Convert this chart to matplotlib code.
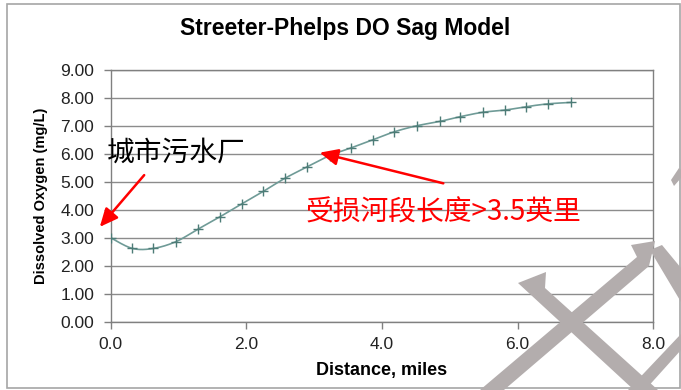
import numpy as np
import matplotlib
matplotlib.use("Agg")
from matplotlib import pyplot as plt
from matplotlib.patches import Rectangle, Polygon, FancyArrowPatch

# DO sag curve read at the marked stations
dist = [0.00, 0.32, 0.63, 0.96, 1.28, 1.61, 1.93, 2.25, 2.57, 2.90, 3.23,
        3.55, 3.86, 4.18, 4.52, 4.85, 5.15, 5.49, 5.82, 6.13, 6.45, 6.78]
do = [3.00, 2.62, 2.62, 2.86, 3.30, 3.75, 4.21, 4.66, 5.13, 5.54, 5.94,
      6.22, 6.50, 6.79, 7.01, 7.16, 7.33, 7.49, 7.57, 7.69, 7.79, 7.84]

xticks = [0.0, 2.0, 4.0, 6.0, 8.0]
yticks = [0, 1, 2, 3, 4, 5, 6, 7, 8, 9]

W, H = 681, 390


def smooth(x, y, n=24):
    # Catmull-Rom spline through the points, like a smoothed spreadsheet line
    x = np.asarray(x, float)
    y = np.asarray(y, float)
    px = np.r_[x[0], x, x[-1]]
    py = np.r_[y[0], y, y[-1]]
    xs, ys = [], []
    t = np.linspace(0, 1, n, endpoint=False)
    for i in range(1, len(px) - 2):
        for arr, out in ((px, xs), (py, ys)):
            p0, p1, p2, p3 = arr[i - 1], arr[i], arr[i + 1], arr[i + 2]
            out.extend(0.5 * ((2 * p1) + (-p0 + p2) * t
                              + (2 * p0 - 5 * p1 + 4 * p2 - p3) * t ** 2
                              + (-p0 + 3 * p1 - 3 * p2 + p3) * t ** 3))
    xs.append(x[-1])
    ys.append(y[-1])
    return np.array(xs), np.array(ys)


def fig_pt(x, y):
    return (x / W, 1 - y / H)


fig = plt.figure(figsize=(W / 100, H / 100), dpi=100)
fig.patch.set_facecolor("white")

ax = fig.add_axes([110.7 / W, 1 - 321.7 / H, (653.3 - 110.7) / W, (321.7 - 70) / H])
sx, sy = smooth(dist, do)
ax.plot(sx, sy, color="#6f9b97", lw=1.2, zorder=3)
ax.plot(dist, do, ls="none", marker="+", ms=7, mew=1.0, color="#4d7c77", zorder=4)

ax.set_xlim(0, 8)
ax.set_ylim(0, 9)
ax.set_xticks(xticks)
ax.set_yticks(yticks)
ax.set_xticklabels(["%.1f" % v for v in xticks])
ax.set_yticklabels(["%.2f" % v for v in yticks])
ax.yaxis.grid(True, color="#8c8c8c", lw=1.0)
ax.set_axisbelow(True)
for s in ax.spines.values():
    s.set_color("#808080")
    s.set_linewidth(1.0)
ax.tick_params(direction="out", length=5, color="#808080", width=1.0,
               labelsize=12.5, labelcolor="#222222")
ax.tick_params(axis="y", pad=7)
ax.tick_params(axis="x", pad=6)
for lab in ax.get_xticklabels() + ax.get_yticklabels():
    lab.set_family("Liberation Sans")

ax.set_xlabel("Distance, miles", fontsize=13, fontweight="bold",
              family="Liberation Sans", labelpad=7)
ax.set_ylabel("Dissolved Oxygen (mg/L)", fontsize=10.5, fontweight="bold",
              family="Liberation Sans", labelpad=9)
fig.text(*fig_pt(345, 28), "Streeter-Phelps DO Sag Model", ha="center", va="center",
         fontsize=16.5, fontweight="bold", family="Liberation Sans")

# chart frame
fig.patches.append(Rectangle(fig_pt(7, 388), (680 - 7) / W, (388 - 4) / H,
                             transform=fig.transFigure, fill=False,
                             ec="#a6a6a6", lw=1.2, zorder=1))

# annotations
cjk = ["Noto Sans CJK SC", "DejaVu Sans"]
fig.text(*fig_pt(107, 153), "城市污水厂", ha="left", va="center",
         fontsize=20, family=cjk, color="black")
fig.text(*fig_pt(306, 213), "受损河段长度>3.5英里", ha="left", va="center",
         fontsize=20, family=cjk, color="#ff0000")
for (x0, y0), (x1, y1) in [((146, 173), (98, 229)), ((446, 184), (317, 152))]:
    fig.patches.append(FancyArrowPatch(fig_pt(x0, y0), fig_pt(x1, y1),
                                       transform=fig.transFigure,
                                       arrowstyle="-|>,head_length=11,head_width=5",
                                       color="#ff0000", lw=1.8, zorder=6))

# grey strokes in the lower right corner
shapes = [
    [(518, 283), (546, 272), (545, 288), (658, 390), (634, 390)],
    [(480, 390), (637, 257), (631, 245), (655, 241), (649, 266), (504, 390)],
    [(650, 250), (662, 245), (681, 268), (681, 302)],
    [(628, 390), (681, 334), (681, 350), (645, 390)],
    [(671, 180), (679, 168), (681, 170), (681, 178), (674, 186)],
]
for pts in shapes:
    fig.patches.append(Polygon([fig_pt(x, y) for x, y in pts], closed=True,
                               transform=fig.transFigure, fc="#b3adad",
                               ec="none", zorder=5))

fig.savefig("out.png", dpi=100)
